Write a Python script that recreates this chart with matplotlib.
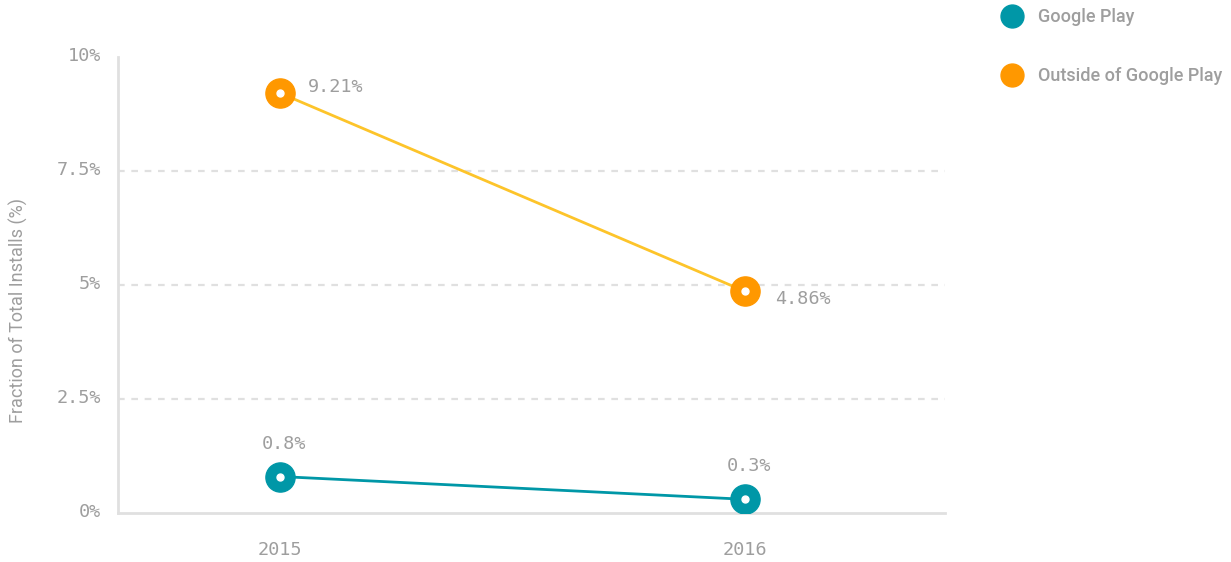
import matplotlib.pyplot as plt
import matplotlib.transforms as mtransforms
from matplotlib.lines import Line2D

# data
years = ["2015", "2016"]
google_play = [0.8, 0.3]
outside_play = [9.21, 4.86]
yticks = [0, 2.5, 5, 7.5, 10]
ytick_labels = ["0%", "2.5%", "5%", "7.5%", "10%"]
series_names = ["Google Play", "Outside of Google Play"]

grey = "#9e9e9e"
mono = "DejaVu Sans Mono"
fs = 13.3

fig = plt.figure(figsize=(12.31, 5.62), dpi=100)
ax = fig.add_axes([0.0959, 0.0872, 0.6718, 0.8114])

x = list(range(len(years)))

# Google Play line
ax.plot(x, google_play, color="#0097a7", lw=2, zorder=3)
ax.plot(x, google_play, "o", ms=21, color="#0097a7", zorder=4)
ax.plot(x, google_play, "o", ms=5, color="white", zorder=5)

# outside line
ax.plot(x, outside_play, color="#fdc42a", lw=2, zorder=3)
ax.plot(x, outside_play, "o", ms=21, color="#ff9800", zorder=4)
ax.plot(x, outside_play, "o", ms=5, color="white", zorder=5)

# value labels
ax.annotate(f"{outside_play[0]}%", (x[0], outside_play[0]), xytext=(28, 6),
            textcoords="offset pixels", ha="left", va="center",
            fontsize=fs, family=mono, color=grey)
ax.annotate(f"{outside_play[1]}%", (x[1], outside_play[1]), xytext=(30, -8),
            textcoords="offset pixels", ha="left", va="center",
            fontsize=fs, family=mono, color=grey)
for xi, v in zip(x, google_play):
    ax.annotate(f"{v}%", (xi, v), xytext=(4, 33), textcoords="offset pixels",
                ha="center", va="center", fontsize=fs, family=mono, color=grey)

ax.set_xlim(-0.348, 1.43)
ax.set_ylim(0, 10)
ax.set_xticks(x)
ax.set_xticklabels(years, family=mono, fontsize=fs, color=grey)
ax.set_yticks(yticks)
ax.set_yticklabels(ytick_labels, family=mono, fontsize=fs, color=grey)
ax.tick_params(length=0)
ax.tick_params(axis="x", pad=20)
ax.tick_params(axis="y", pad=12)
shift = mtransforms.ScaledTranslation(0, 3 / 100, fig.dpi_scale_trans)
for lbl in ax.get_yticklabels():
    lbl.set_transform(lbl.get_transform() + shift)

for yv in yticks[1:-1]:
    ax.axhline(yv, color="#e0e0e0", lw=1.6, ls=(0, (3, 3)), zorder=1)

for side in ["top", "right"]:
    ax.spines[side].set_visible(False)
for side in ["left", "bottom"]:
    ax.spines[side].set_color("#e0e0e0")
    ax.spines[side].set_linewidth(2)

ax.set_ylabel("Fraction of Total Installs (%)", family="Roboto", fontsize=13,
              color=grey)
ax.yaxis.set_label_coords(-0.109, 0.445)

# legend on the right
handles = [Line2D([], [], marker="o", ls="", ms=16.5, color=c)
           for c in ["#0097a7", "#ff9800"]]
leg = fig.legend(handles, series_names, loc="upper left",
                 bbox_to_anchor=(0.8, 1.015), frameon=False,
                 prop={"family": "Roboto", "weight": "medium", "size": 13},
                 labelcolor=grey, labelspacing=2.3, handletextpad=0.85,
                 handlelength=1.2)

fig.savefig("out.png", dpi=100)
